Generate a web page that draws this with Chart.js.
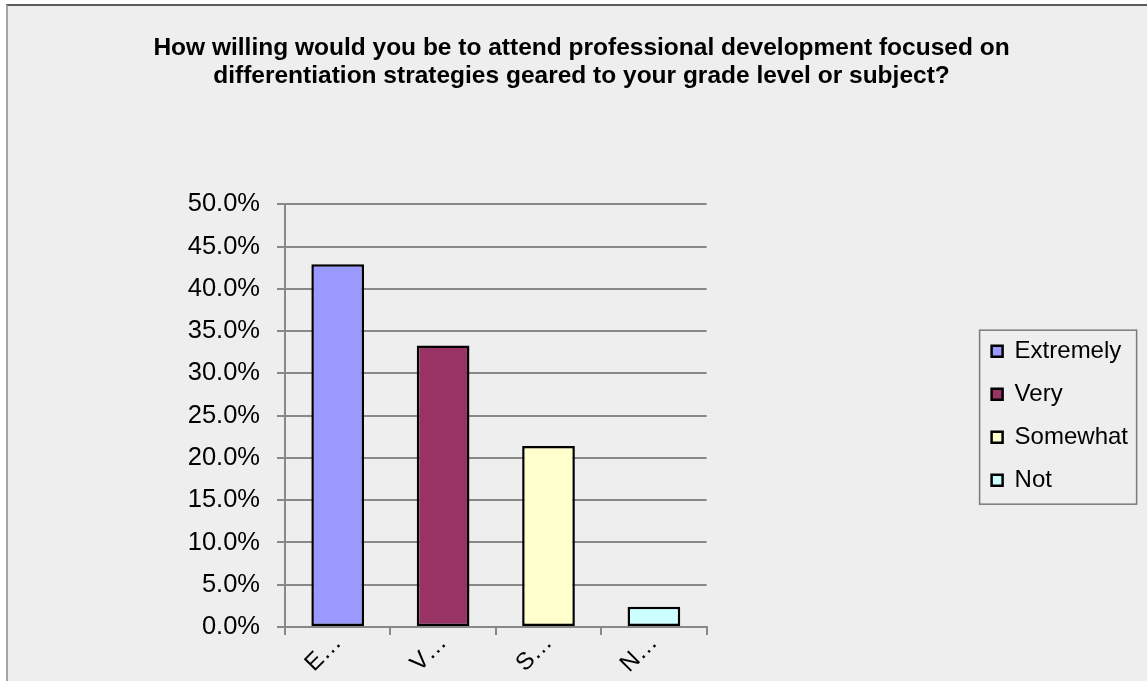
<!DOCTYPE html>
<html>
<head>
<meta charset="utf-8">
<title>Willingness to attend differentiation PD</title>
<script src="https://cdn.jsdelivr.net/npm/chart.js@4.4.1/dist/chart.umd.min.js"></script>
<style>
  html, body { margin: 0; padding: 0; background: #fff; overflow: hidden; }
  #frame {
    position: absolute; left: 6px; top: 4px; width: 1139px; height: 675px;
    background: #eeeeee; border-left: 2px solid #a6a6a6; border-top: 2px solid #5a5a5a;
  }
  #chart { position: absolute; left: 0; top: 0; }
</style>
</head>
<body>
<div id="frame"></div>
<canvas id="chart" width="1147" height="681"></canvas>
<script>
// survey answers and share of respondents (percent)
const categories = ['Extremely', 'Very', 'Somewhat', 'Not'];
const percents = [42.9, 33.3, 21.4, 2.4];
const barColors = ['#9999ff', '#993366', '#ffffcc', '#ccffff'];
const yTicks = [0, 5, 10, 15, 20, 25, 30, 35, 40, 45, 50];
const titleLines = [
  'How willing would you be to attend professional development focused on',
  'differentiation strategies geared to your grade level or subject?'
];

const FONT = 'Liberation Sans';
const GRID = '#888888';

// box drawn round the legend entries
const legendFrame = {
  id: 'legendFrame',
  afterDraw(chart) {
    const boxes = chart.legend.legendHitBoxes;
    if (!boxes || !boxes.length) return;
    const first = boxes[0];
    const last = boxes[boxes.length - 1];
    const top = first.top - 9;
    const ctx = chart.ctx;
    ctx.save();
    ctx.strokeStyle = '#7a7a7a';
    ctx.lineWidth = 1.5;
    ctx.strokeRect(first.left - 12, top, 157, last.top + last.height + 12 - top);
    ctx.restore();
  }
};

const data = {
  labels: categories,
  datasets: [{
    data: percents,
    backgroundColor: barColors,
    borderColor: '#000',
    borderWidth: 2.5,
    borderSkipped: false,
    barPercentage: 0.5,
    categoryPercentage: 1.0
  }]
};

const options = {
  responsive: false,
  animation: false,
  layout: { padding: { left: 25, right: 9, top: 0, bottom: 0 } },
  scales: {
    x: {
      afterFit(s) { s.height = 54; },
      grid: { drawOnChartArea: false, color: GRID, lineWidth: 2, tickLength: 8 },
      border: { color: GRID, width: 2 },
      ticks: {
        color: '#000',
        padding: -6,
        font: { family: FONT, size: 24 },
        minRotation: 45,
        maxRotation: 45,
        callback: (v, i) => categories[i].charAt(0) + '\u2026'
      }
    },
    y: {
      min: 0,
      max: 50,
      afterFit(s) { s.width = 260; },
      afterBuildTicks(s) { s.ticks = yTicks.map(v => ({ value: v })); },
      grid: { color: GRID, lineWidth: 2, tickLength: 8 },
      border: { color: GRID, width: 2 },
      ticks: {
        color: '#000',
        padding: 17,
        font: { family: FONT, size: 25.5 },
        callback: v => v.toFixed(1) + '%'
      }
    },
    // empty right-hand axis, only keeps the gap between plot and legend
    gap: {
      type: 'linear',
      position: 'right',
      afterFit(s) { s.width = 266; },
      grid: { display: false },
      border: { display: false },
      ticks: { display: false }
    }
  },
  plugins: {
    title: {
      display: true,
      text: titleLines,
      color: '#000',
      font: { family: FONT, size: 24.5, weight: 'bold', lineHeight: 1.15 },
      padding: { top: 34, bottom: 114 }
    },
    legend: {
      position: 'right',
      fullSize: false,
      onClick: null,
      labels: {
        color: '#000',
        font: { family: FONT, size: 24 },
        boxWidth: 11,
        boxHeight: 11,
        padding: 19,
        generateLabels: () => categories.map((c, i) => ({
          text: c,
          fillStyle: barColors[i],
          strokeStyle: '#000',
          lineWidth: 2.5,
          hidden: false,
          index: i
        }))
      }
    },
    tooltip: { enabled: false }
  }
};

const myChart = new Chart(document.getElementById('chart'), {
  type: 'bar',
  data,
  options,
  plugins: [legendFrame]
});
</script>
</body>
</html>
